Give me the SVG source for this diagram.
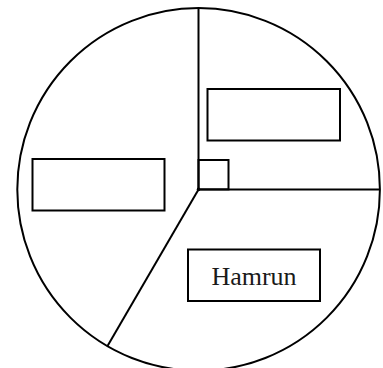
<svg xmlns="http://www.w3.org/2000/svg" width="383" height="368" viewBox="0 0 383 368">
<style>
.ln{fill:none;stroke:#000;stroke-width:2}
.bx{fill:#fff;stroke:#000;stroke-width:2}
.lb{font-family:"Liberation Serif","Times New Roman",serif;font-size:26px;fill:#1a1a1a;text-anchor:middle}
</style>
<rect width="383" height="368" fill="#fff"/>
<g id="connectors">
<circle class="ln" cx="198.6" cy="189.4" r="181.3"/>
<line class="ln" x1="198.5" y1="8" x2="198.5" y2="189.4"/>
<line class="ln" x1="198.5" y1="189.4" x2="380" y2="189.4"/>
<line class="ln" x1="198.5" y1="189.4" x2="107.5" y2="346"/>
<rect class="ln" x="198.5" y="160" width="30" height="29.4"/>
<circle cx="198.5" cy="189.4" r="1.8" fill="#000"/>
</g>
<g id="node-top-right"><rect class="bx" x="207.5" y="89" width="132.5" height="51.5"/></g>
<g id="node-left"><rect class="bx" x="32.5" y="159" width="132" height="51.5"/></g>
<g id="node-hamrun"><rect class="bx" x="188" y="249.5" width="132" height="51.5"/><text class="lb" x="254" y="285">Hamrun</text></g>
</svg>
